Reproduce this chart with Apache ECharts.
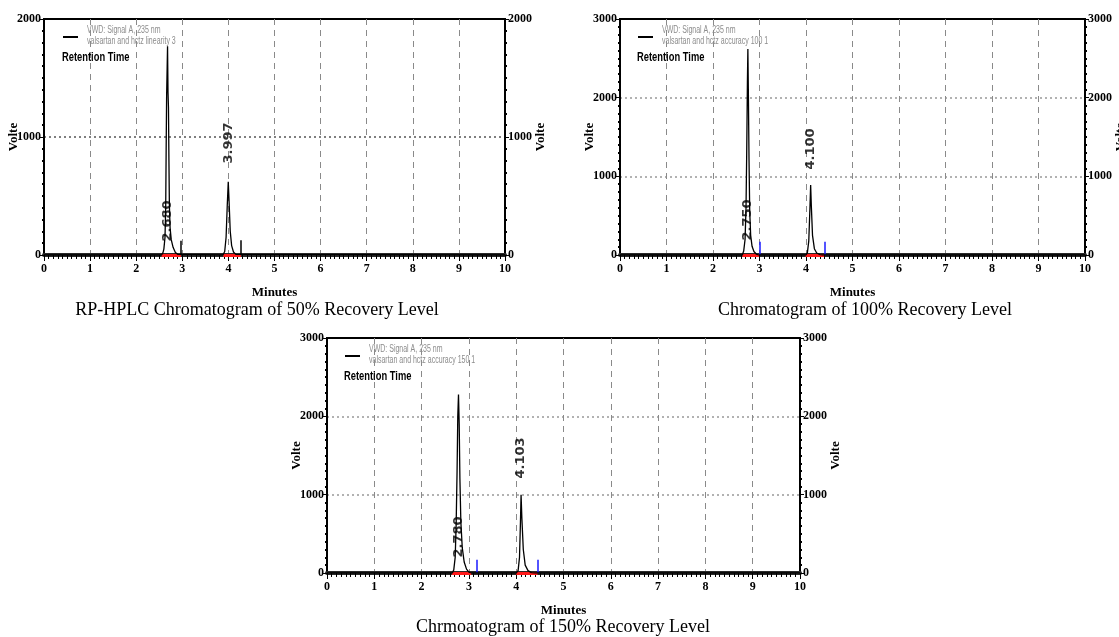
<!DOCTYPE html>
<html>
<head>
<meta charset="utf-8">
<title>Recovery Level Chromatograms</title>
<script src="https://cdn.jsdelivr.net/npm/echarts@6/dist/echarts.min.js"></script>
<style>
  html, body { margin: 0; padding: 0; background: #fff; }
  #chart { width: 1119px; height: 637px; }
</style>
</head>
<body>
<div id="chart"></div>
<script>
// ---- Chromatogram traces: [retention time (min), response] ----
const trace50 = [
  [0, 0], [2.55, 0], [2.58, 20], [2.60, 50], [2.625, 150], [2.64, 400], [2.65, 900],
  [2.66, 1350], [2.672, 1600], [2.68, 1770], [2.69, 1380], [2.70, 1250], [2.71, 800],
  [2.72, 420], [2.735, 230], [2.76, 130], [2.80, 65], [2.85, 22], [2.90, 6], [2.93, 0],
  [3.88, 0], [3.92, 30], [3.95, 150], [3.975, 420], [3.997, 620], [4.015, 450],
  [4.04, 200], [4.07, 80], [4.11, 25], [4.16, 5], [4.20, 0], [10, 0]
];
const trace100 = [
  [0, 0], [2.63, 0], [2.66, 50], [2.69, 200], [2.71, 600], [2.725, 1300], [2.74, 2200],
  [2.75, 2620], [2.76, 2100], [2.775, 1200], [2.79, 550], [2.81, 250], [2.84, 110],
  [2.88, 45], [2.93, 12], [2.98, 0],
  [4.00, 0], [4.03, 30], [4.06, 180], [4.085, 600], [4.10, 890], [4.115, 620],
  [4.14, 250], [4.18, 80], [4.23, 25], [4.30, 5], [4.36, 0], [10, 0]
];
const trace150 = [
  [0, 0], [2.65, 0], [2.68, 40], [2.71, 200], [2.73, 600], [2.75, 1300], [2.765, 2000],
  [2.78, 2280], [2.795, 1900], [2.81, 1200], [2.83, 650], [2.86, 320], [2.90, 140],
  [2.95, 50], [3.00, 12], [3.05, 0],
  [4.00, 0], [4.04, 30], [4.07, 200], [4.09, 650], [4.103, 1000], [4.12, 700],
  [4.15, 300], [4.19, 100], [4.25, 30], [4.32, 5], [4.40, 0], [10, 0]
];

// Retention-time annotations: [time, label height]
const peaks50 = [[2.680, 288], [3.997, 949]];
const peaks100 = [[2.750, 445], [4.100, 1347]];
const peaks150 = [[2.780, 460], [4.103, 1469]];

// Integration baselines: [start, end]
const bands50 = [[2.55, 2.97], [3.89, 4.27]];
const bands100 = [[2.63, 2.99], [3.99, 4.39]];
const bands150 = [[2.64, 3.05], [4.00, 4.45]];

// Peak-end event markers: [time, height]
const events50 = [[2.97, 120], [4.27, 125]];
const events100 = [[3.01, 170], [4.41, 170]];
const events150 = [[3.16, 170], [4.46, 170]];

const yMax = [2000, 3000, 3000];
const xTicks = [0, 10];
const captions = [
  'RP-HPLC Chromatogram of 50% Recovery Level',
  'Chromatogram of 100% Recovery Level',
  'Chrmoatogram of 150% Recovery Level'
];
const legendLines = [
  ['VWD: Signal A, 235 nm', 'valsartan and hctz linearity 3'],
  ['VWD: Signal A, 235 nm', 'valsartan and hctz accuracy 100 1'],
  ['VWD: Signal A, 235 nm', 'valsartan and hctz accuracy 150 1']
];

// ---- layout & styling ----
const SERIF = '"Liberation Serif", "Times New Roman", serif';
const SANS = '"Liberation Sans", Arial, sans-serif';
const LABELFONT = '"DejaVu Sans", Arial, sans-serif';

const panels = [
  { grid: { left: 44, top: 19, width: 461, height: 236 }, trace: trace50, peaks: peaks50,
    bands: bands50, events: events50, eventColor: '#000', hDash: '#555',
    legend: { x: 63, y: 37 }, caption: { x: 257, y: 310 } },
  { grid: { left: 620, top: 19, width: 465, height: 236 }, trace: trace100, peaks: peaks100,
    bands: bands100, events: events100, eventColor: '#1a1aff', hDash: '#999',
    legend: { x: 638, y: 37 }, caption: { x: 865, y: 310 } },
  { grid: { left: 327, top: 338, width: 473, height: 235 }, trace: trace150, peaks: peaks150,
    bands: bands150, events: events150, eventColor: '#1a1aff', hDash: '#999',
    legend: { x: 345, y: 356 }, caption: { x: 563, y: 627 } }
];

const tickText = { fontFamily: SERIF, fontWeight: 'bold', fontSize: 12, color: '#000' };

const grids = [], xAxes = [], yAxes = [], series = [], graphics = [];

panels.forEach((p, i) => {
  grids.push(Object.assign({ show: true, borderColor: '#000', borderWidth: 2,
    backgroundColor: '#fff', outerBoundsMode: 'none', containLabel: false }, p.grid));

  xAxes.push({
    type: 'value', gridIndex: i, min: xTicks[0], max: xTicks[1], interval: 1,
    name: 'Minutes', nameLocation: 'middle', nameGap: 31, nameMoveOverlap: false,
    nameTextStyle: { fontFamily: SERIF, fontWeight: 'bold', fontSize: 13, color: '#000' },
    axisLine: { onZero: false, lineStyle: { color: '#2a2a2a', width: 4 } },
    axisTick: { show: true, length: 6, lineStyle: { color: '#000', width: 1 } },
    minorTick: { show: true, splitNumber: 10, length: 4, lineStyle: { color: '#000', width: 1 } },
    axisLabel: Object.assign({ margin: 8 }, tickText),
    splitLine: { show: true, showMinLine: false, showMaxLine: false,
      lineStyle: { color: '#8a8a8a', width: 1, type: [6, 5] } }
  });

  const yCommon = {
    type: 'value', gridIndex: i, min: 0, max: yMax[i], interval: 1000,
    name: 'Volte', nameLocation: 'middle', nameRotate: 90, nameMoveOverlap: false,
    nameTextStyle: { fontFamily: SERIF, fontWeight: 'bold', fontSize: 13, color: '#000' },
    axisLine: { show: true, lineStyle: { color: '#000', width: 2 } },
    axisTick: { show: true, length: 4, lineStyle: { color: '#000', width: 1 } },
    minorTick: { show: true, splitNumber: 10, length: 2, lineStyle: { color: '#000', width: 2 } },
    axisLabel: Object.assign({ margin: 3, formatter: v => String(v) }, tickText)
  };
  yAxes.push(Object.assign({}, yCommon, {
    position: 'left', nameGap: 24,
    splitLine: { show: true, showMinLine: false, showMaxLine: false,
      lineStyle: { color: p.hDash, width: 1.5, type: [2, 3] } }
  }));
  yAxes.push(Object.assign({}, yCommon, {
    position: 'right', nameGap: 29, splitLine: { show: false }
  }));
  const yLeft = yAxes.length - 2;

  const marks = [];
  p.bands.forEach(b => marks.push([
    { coord: [b[0], 0], lineStyle: { color: '#ff1a1a', width: 3, type: 'solid' } },
    { coord: [b[1], 0] }
  ]));
  p.events.forEach(e => marks.push([
    { coord: [e[0], 0], lineStyle: { color: p.eventColor, width: 1.5, type: 'solid' } },
    { coord: [e[0], e[1]] }
  ]));

  series.push({
    type: 'line', xAxisIndex: i, yAxisIndex: yLeft, data: p.trace,
    showSymbol: false, symbol: 'none', silent: true, z: 5,
    lineStyle: { color: '#000', width: 1.3 },
    markLine: { symbol: 'none', silent: true, label: { show: false }, animation: false,
      data: marks }
  });

  series.push({
    type: 'scatter', xAxisIndex: i, yAxisIndex: yLeft, data: p.peaks,
    symbolSize: 0, silent: true, z: 6,
    label: {
      show: true, position: 'inside', rotate: 90,
      formatter: d => d.value[0].toFixed(3),
      fontFamily: LABELFONT, fontWeight: 'bold', fontSize: 13, color: '#000'
    }
  });

  // legend block (condensed text)
  const L = p.legend;
  graphics.push({ type: 'line', shape: { x1: L.x, y1: L.y, x2: L.x + 15, y2: L.y },
    style: { stroke: '#000', lineWidth: 2 }, z: 10 });
  graphics.push({ type: 'text', x: L.x + 24, y: L.y - 12, scaleX: 0.7,
    style: { text: legendLines[i][0], font: '10px ' + SANS, fill: '#8c8c8c',
      textVerticalAlign: 'top' }, z: 10 });
  graphics.push({ type: 'text', x: L.x + 24, y: L.y - 1, scaleX: 0.7,
    style: { text: legendLines[i][1], font: '10px ' + SANS, fill: '#8c8c8c',
      textVerticalAlign: 'top' }, z: 10 });
  graphics.push({ type: 'text', x: L.x - 1, y: L.y + 14, scaleX: 0.72,
    style: { text: 'Retention Time', font: 'bold 13px ' + SANS, fill: '#000',
      textVerticalAlign: 'top' }, z: 10 });

  // caption under each chromatogram
  graphics.push({ type: 'text', x: p.caption.x, y: p.caption.y,
    style: { text: captions[i], font: '18px ' + SERIF, fill: '#000',
      textAlign: 'center', textVerticalAlign: 'middle' }, z: 10 });
});

const chart = echarts.init(document.getElementById('chart'), null, { renderer: 'canvas' });
chart.setOption({
  backgroundColor: '#fff',
  animation: false,
  grid: grids,
  xAxis: xAxes,
  yAxis: yAxes,
  series: series,
  graphic: graphics
});
</script>
</body>
</html>
